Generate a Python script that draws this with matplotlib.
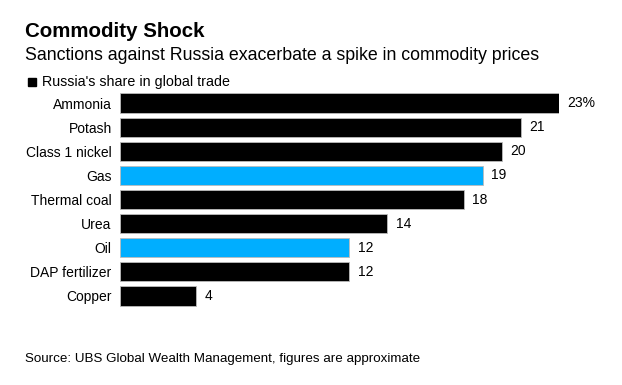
import matplotlib.pyplot as plt

plt.rcParams["font.family"] = ["Liberation Sans", "DejaVu Sans"]

categories = ["Ammonia", "Potash", "Class 1 nickel", "Gas", "Thermal coal",
              "Urea", "Oil", "DAP fertilizer", "Copper"]
shares = [23, 21, 20, 19, 18, 14, 12, 12, 4]
highlight = ["Gas", "Oil"]
value_labels = ["23%", "21", "20", "19", "18", "14", "12", "12", "4"]

BLACK = "#000000"
BLUE = "#00aeff"

fig = plt.figure(figsize=(6.22, 3.85), dpi=100)
ax = fig.add_axes([120 / 622, 0.2, (559 - 120) / 622, 0.7636 - 0.2])

colors = [BLUE if c in highlight else BLACK for c in categories]
y = list(range(len(categories)))
ax.barh(y, shares, height=0.8, color=colors, edgecolor="#bbbbbb", linewidth=0.6)

for yi, v, lab in zip(y, shares, value_labels):
    ax.text(v + 0.45, yi, lab, va="center", ha="left", fontsize=10, clip_on=False)

ax.set_xlim(0, 23)
ax.set_ylim(len(categories) - 0.5, -0.5)
ax.set_yticks(y)
ax.set_yticklabels(categories, fontsize=10)
ax.tick_params(axis="y", length=0, pad=6)
ax.set_xticks([])
for s in ax.spines.values():
    s.set_visible(False)

fig.text(25 / 622, 1 - 37 / 385, "Commodity Shock", fontsize=14.8, fontweight="bold", va="baseline")
fig.text(25 / 622, 1 - 60 / 385, "Sanctions against Russia exacerbate a spike in commodity prices",
         fontsize=12.8, va="baseline")
fig.patches.append(plt.Rectangle((28 / 622, 1 - 86 / 385), 8 / 622, 8 / 385,
                                 transform=fig.transFigure, color=BLACK))
fig.text(42 / 622, 1 - 86 / 385, "Russia's share in global trade", fontsize=10.3, va="baseline")
fig.text(25 / 622, 1 - 362 / 385, "Source: UBS Global Wealth Management, figures are approximate",
         fontsize=9.6, va="baseline")

fig.savefig("out.png", dpi=100)
